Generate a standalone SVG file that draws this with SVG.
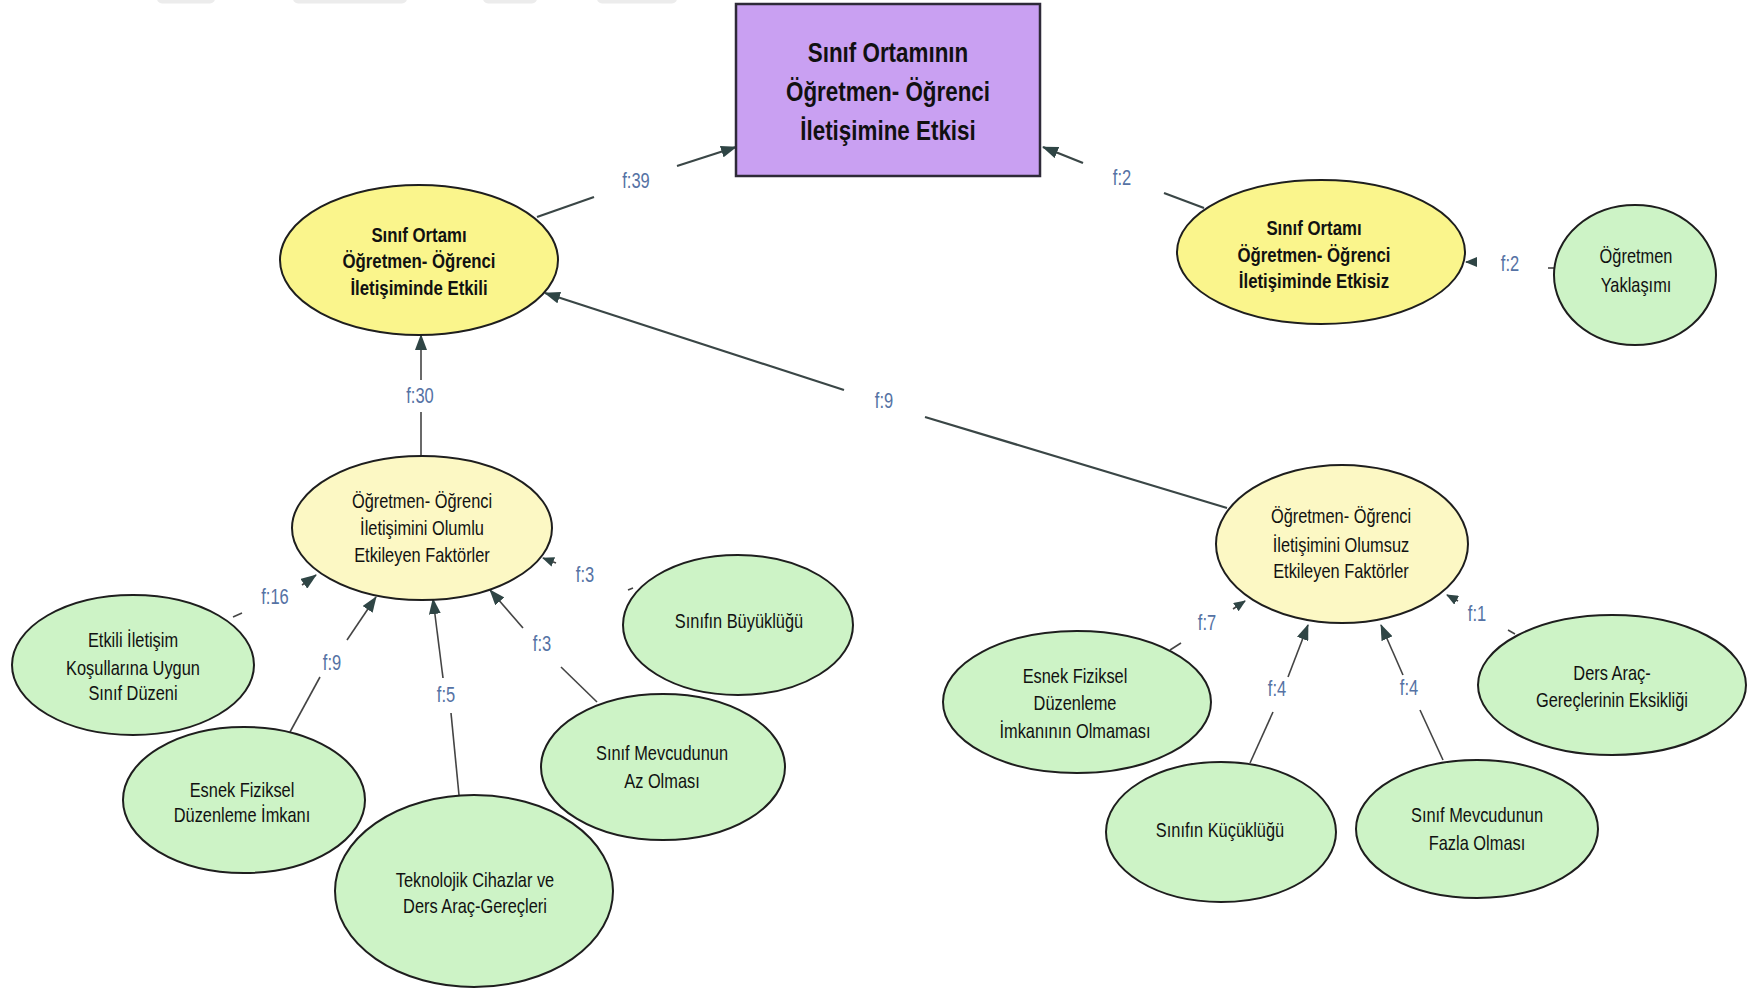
<svg xmlns="http://www.w3.org/2000/svg" width="1753" height="990" viewBox="0 0 1753 990">
<defs>
<style>
.bg{fill:#ffffff}
.wm{fill:#ececec}
.rect{fill:#c9a0f2;stroke:#2e2a38;stroke-width:2.5}
.yel{fill:#faf58c;stroke:#1e1e1e;stroke-width:2}
.pale{fill:#fcf8c4;stroke:#1e1e1e;stroke-width:2}
.grn{fill:#cdf3c6;stroke:#1e1e1e;stroke-width:2}
.t{font-family:"Liberation Sans",Arial,sans-serif;fill:#111;text-anchor:middle}
.tb{font-weight:bold;font-size:20.5px}
.tt{font-weight:bold;font-size:28px}
.tr{font-size:20px}
.lbl{font-family:"Liberation Sans",Arial,sans-serif;font-size:22px;fill:#5572a4;text-anchor:middle}
.ln{stroke:#444;stroke-width:1.6;fill:none}
.lnd{stroke:#3a4646;stroke-width:2.2;fill:none}
</style>
<marker id="ah" viewBox="0 0 16 12" refX="15" refY="6" markerWidth="16" markerHeight="12" markerUnits="userSpaceOnUse" orient="auto">
<path d="M0,0 L16,6 L0,12 Z" fill="#2f4545"/>
</marker>
<marker id="ahs" viewBox="0 0 12 10" refX="11" refY="5" markerWidth="12" markerHeight="10" markerUnits="userSpaceOnUse" orient="auto">
<path d="M0,0 L12,5 L0,10 Z" fill="#2f4545"/>
</marker>
</defs>
<rect class="bg" x="0" y="0" width="1753" height="990"/>
<g id="watermark">
<rect class="wm" x="157" y="-8" width="58" height="11.5" rx="5"/>
<rect class="wm" x="293" y="-8" width="114" height="11.5" rx="5"/>
<rect class="wm" x="483" y="-8" width="54" height="11.5" rx="5"/>
<rect class="wm" x="597" y="-8" width="80" height="11.5" rx="5"/>
</g>
<g id="connectors">
<line class="lnd" x1="537" y1="217" x2="594" y2="197"/>
<line class="lnd" x1="677" y1="166" x2="736" y2="147" marker-end="url(#ah)"/>
<text class="lbl" x="636" y="188" transform="matrix(0.75 0 0 1 159 0)">f:39</text>
<line class="lnd" x1="1204" y1="208" x2="1164" y2="193"/>
<line class="lnd" x1="1083" y1="163" x2="1043" y2="147" marker-end="url(#ah)"/>
<text class="lbl" x="1122" y="185" transform="matrix(0.75 0 0 1 280.5 0)">f:2</text>
<line class="ln" x1="1554" y1="268" x2="1548" y2="268"/>
<line class="ln" x1="1476" y1="262" x2="1466" y2="262" marker-end="url(#ahs)"/>
<text class="lbl" x="1510" y="271" transform="matrix(0.75 0 0 1 377.5 0)">f:2</text>
<line class="ln" x1="421" y1="457" x2="421" y2="412"/>
<line class="ln" x1="421" y1="380" x2="421" y2="335" marker-end="url(#ah)"/>
<text class="lbl" x="420" y="403" transform="matrix(0.75 0 0 1 105 0)">f:30</text>
<line class="lnd" x1="1227" y1="508" x2="925" y2="417"/>
<line class="lnd" x1="844" y1="390" x2="545" y2="293" marker-end="url(#ah)"/>
<text class="lbl" x="884" y="408" transform="matrix(0.75 0 0 1 221 0)">f:9</text>
<line class="ln" x1="233" y1="617" x2="242" y2="613"/>
<line class="ln" x1="302" y1="585" x2="316" y2="575" marker-end="url(#ah)"/>
<text class="lbl" x="275" y="604" transform="matrix(0.75 0 0 1 68.75 0)">f:16</text>
<line class="ln" x1="290" y1="732" x2="320" y2="677"/>
<line class="ln" x1="347" y1="640" x2="376" y2="597" marker-end="url(#ah)"/>
<text class="lbl" x="332" y="670" transform="matrix(0.75 0 0 1 83 0)">f:9</text>
<line class="ln" x1="459" y1="795" x2="451" y2="713"/>
<line class="ln" x1="443" y1="678" x2="433" y2="599" marker-end="url(#ah)"/>
<text class="lbl" x="446" y="702" transform="matrix(0.75 0 0 1 111.5 0)">f:5</text>
<line class="ln" x1="597" y1="702" x2="561" y2="667"/>
<line class="ln" x1="523" y1="628" x2="490" y2="590" marker-end="url(#ah)"/>
<text class="lbl" x="542" y="651" transform="matrix(0.75 0 0 1 135.5 0)">f:3</text>
<line class="ln" x1="628" y1="590" x2="633" y2="588"/>
<line class="ln" x1="556" y1="563" x2="543" y2="558" marker-end="url(#ahs)"/>
<text class="lbl" x="585" y="582" transform="matrix(0.75 0 0 1 146.25 0)">f:3</text>
<line class="ln" x1="1170" y1="650" x2="1181" y2="643"/>
<line class="ln" x1="1233" y1="609" x2="1245" y2="601" marker-end="url(#ahs)"/>
<text class="lbl" x="1207" y="630" transform="matrix(0.75 0 0 1 301.75 0)">f:7</text>
<line class="ln" x1="1250" y1="763" x2="1273" y2="712"/>
<line class="ln" x1="1288" y1="677" x2="1308" y2="625" marker-end="url(#ah)"/>
<text class="lbl" x="1277" y="696" transform="matrix(0.75 0 0 1 319.25 0)">f:4</text>
<line class="ln" x1="1443" y1="760" x2="1420" y2="710"/>
<line class="ln" x1="1403" y1="675" x2="1381" y2="625" marker-end="url(#ah)"/>
<text class="lbl" x="1409" y="695" transform="matrix(0.75 0 0 1 352.25 0)">f:4</text>
<line class="ln" x1="1515" y1="634" x2="1508" y2="630"/>
<line class="ln" x1="1458" y1="601" x2="1447" y2="595" marker-end="url(#ahs)"/>
<text class="lbl" x="1477" y="621" transform="matrix(0.75 0 0 1 369.25 0)">f:1</text>
</g>
<g id="n-root">
<rect class="rect" x="736" y="4" width="304" height="172"/>
<text class="t tt" transform="matrix(0.8 0 0 1 177.6 0)"><tspan x="888" y="62">Sınıf Ortamının</tspan><tspan x="888" y="101">Öğretmen- Öğrenci</tspan><tspan x="888" y="140">İletişimine Etkisi</tspan></text>
</g>
<g id="n-etkili">
<ellipse class="yel" cx="419" cy="260" rx="139" ry="75"/>
<text class="t tb" transform="matrix(0.82 0 0 1 75.42 0)"><tspan x="419" y="242">Sınıf Ortamı</tspan><tspan x="419" y="268">Öğretmen- Öğrenci</tspan><tspan x="419" y="295">İletişiminde Etkili</tspan></text>
</g>
<g id="n-etkisiz">
<ellipse class="yel" cx="1321" cy="252" rx="144" ry="72"/>
<text class="t tb" transform="matrix(0.82 0 0 1 236.52 0)"><tspan x="1314" y="235">Sınıf Ortamı</tspan><tspan x="1314" y="262">Öğretmen- Öğrenci</tspan><tspan x="1314" y="288">İletişiminde Etkisiz</tspan></text>
</g>
<g id="n-yaklasim">
<ellipse class="grn" cx="1635" cy="275" rx="81" ry="70"/>
<text class="t tr" transform="matrix(0.82 0 0 1 294.48 0)"><tspan x="1636" y="263">Öğretmen</tspan><tspan x="1636" y="292">Yaklaşımı</tspan></text>
</g>
<g id="n-olumlu">
<ellipse class="pale" cx="422" cy="528" rx="130" ry="72"/>
<text class="t tr" transform="matrix(0.82 0 0 1 75.96 0)"><tspan x="422" y="508">Öğretmen- Öğrenci</tspan><tspan x="422" y="535">İletişimini Olumlu</tspan><tspan x="422" y="562">Etkileyen Faktörler</tspan></text>
</g>
<g id="n-olumsuz">
<ellipse class="pale" cx="1342" cy="544" rx="126" ry="79"/>
<text class="t tr" transform="matrix(0.82 0 0 1 241.38 0)"><tspan x="1341" y="523">Öğretmen- Öğrenci</tspan><tspan x="1341" y="552">İletişimini Olumsuz</tspan><tspan x="1341" y="578">Etkileyen Faktörler</tspan></text>
</g>
<g id="n-kosul">
<ellipse class="grn" cx="133" cy="665" rx="121" ry="70"/>
<text class="t tr" transform="matrix(0.82 0 0 1 23.94 0)"><tspan x="133" y="647">Etkili İletişim</tspan><tspan x="133" y="675">Koşullarına Uygun</tspan><tspan x="133" y="700">Sınıf Düzeni</tspan></text>
</g>
<g id="n-esnek">
<ellipse class="grn" cx="244" cy="800" rx="121" ry="73"/>
<text class="t tr" transform="matrix(0.82 0 0 1 43.56 0)"><tspan x="242" y="797">Esnek Fiziksel</tspan><tspan x="242" y="822">Düzenleme İmkanı</tspan></text>
</g>
<g id="n-teknoloji">
<ellipse class="grn" cx="474" cy="891" rx="139" ry="96"/>
<text class="t tr" transform="matrix(0.82 0 0 1 85.5 0)"><tspan x="475" y="887">Teknolojik Cihazlar ve</tspan><tspan x="475" y="913">Ders Araç-Gereçleri</tspan></text>
</g>
<g id="n-az">
<ellipse class="grn" cx="663" cy="767" rx="122" ry="73"/>
<text class="t tr" transform="matrix(0.82 0 0 1 119.16 0)"><tspan x="662" y="760">Sınıf Mevcudunun</tspan><tspan x="662" y="788">Az Olması</tspan></text>
</g>
<g id="n-buyuk">
<ellipse class="grn" cx="738" cy="625" rx="115" ry="70"/>
<text class="t tr" transform="matrix(0.82 0 0 1 133.02 0)"><tspan x="739" y="628">Sınıfın Büyüklüğü</tspan></text>
</g>
<g id="n-esnekyok">
<ellipse class="grn" cx="1077" cy="702" rx="134" ry="71"/>
<text class="t tr" transform="matrix(0.82 0 0 1 193.5 0)"><tspan x="1075" y="683">Esnek Fiziksel</tspan><tspan x="1075" y="710">Düzenleme</tspan><tspan x="1075" y="738">İmkanının Olmaması</tspan></text>
</g>
<g id="n-kucuk">
<ellipse class="grn" cx="1221" cy="832" rx="115" ry="70"/>
<text class="t tr" transform="matrix(0.82 0 0 1 219.6 0)"><tspan x="1220" y="837">Sınıfın Küçüklüğü</tspan></text>
</g>
<g id="n-fazla">
<ellipse class="grn" cx="1477" cy="829" rx="121" ry="69"/>
<text class="t tr" transform="matrix(0.82 0 0 1 265.86 0)"><tspan x="1477" y="822">Sınıf Mevcudunun</tspan><tspan x="1477" y="850">Fazla Olması</tspan></text>
</g>
<g id="n-eksik">
<ellipse class="grn" cx="1612" cy="685" rx="134" ry="70"/>
<text class="t tr" transform="matrix(0.82 0 0 1 290.16 0)"><tspan x="1612" y="680">Ders Araç-</tspan><tspan x="1612" y="707">Gereçlerinin Eksikliği</tspan></text>
</g>
</svg>
